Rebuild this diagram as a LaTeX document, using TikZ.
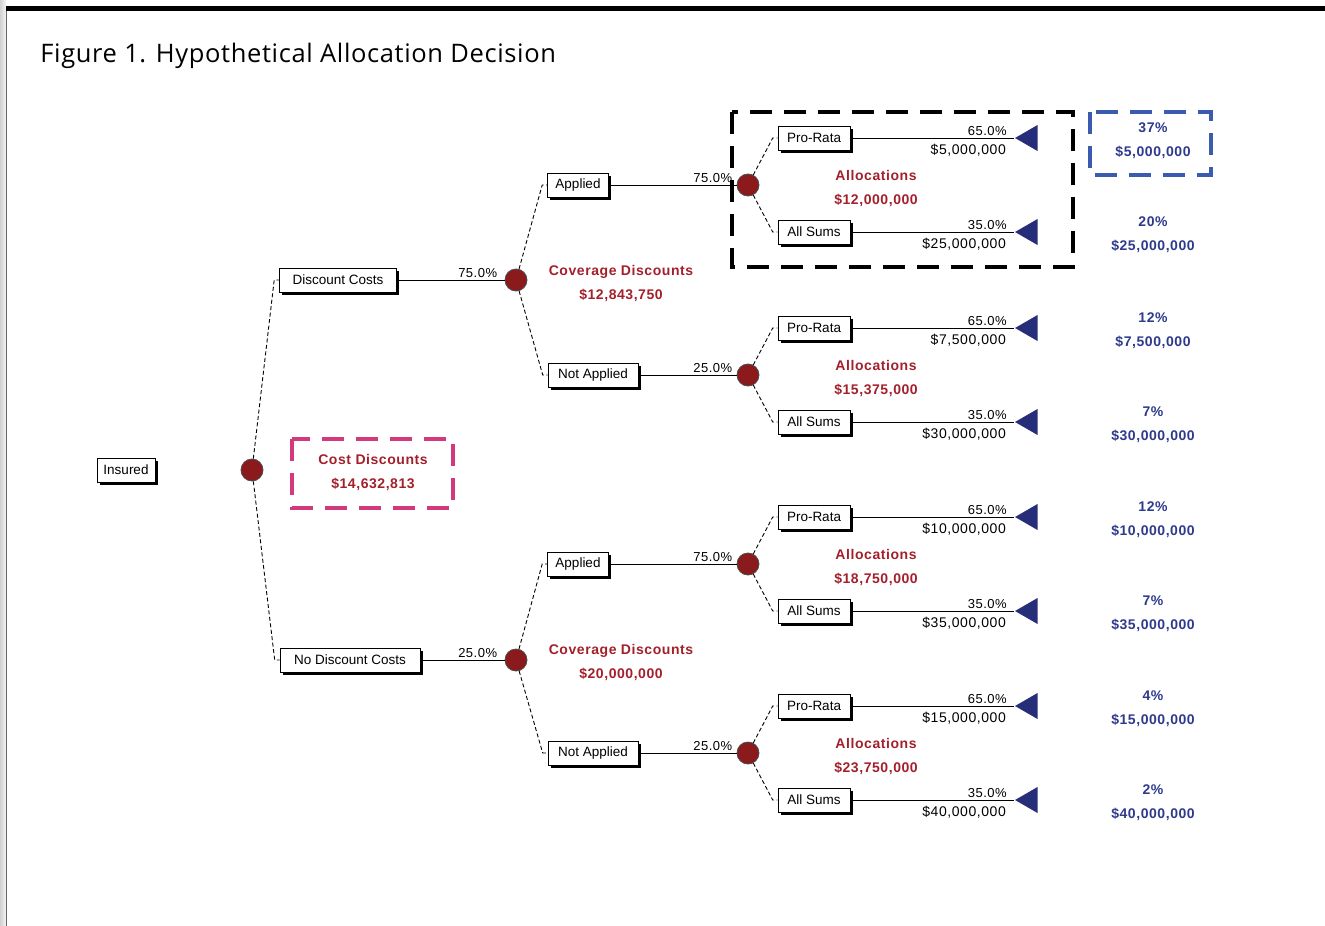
\documentclass[tikz,border=0pt]{standalone}
\usepackage{fontspec}
\setmainfont{Liberation Sans}
\newfontfamily\titlefont[LetterSpace=2.5]{Open Sans}
\newfontfamily\labfont[LetterSpace=4]{Liberation Sans}
\usetikzlibrary{shapes.geometric,shadows,positioning}
\definecolor{nodered}{HTML}{8B1A1C}
\definecolor{labelred}{HTML}{A3202B}
\definecolor{termblue}{HTML}{262E7A}
\definecolor{valblue}{HTML}{2E3A8C}
\definecolor{hiblue}{HTML}{3A5BB0}
\definecolor{hipink}{HTML}{D33A7E}

\begin{document}
\begin{tikzpicture}[x=1pt,y=-1pt, line width=0.8pt,
    choice/.style={rectangle, draw, line width=0.6pt, fill=white, minimum height=24pt, inner xsep=5pt,
        font=\fontsize{13.5}{14}\selectfont,
        drop shadow={shadow xshift=2.5pt, shadow yshift=-2.5pt, fill=black, opacity=1}},
    chance/.style={circle, draw=black!70, fill=nodered, minimum size=22pt, inner sep=0pt},
    ending/.style={regular polygon, regular polygon sides=3, shape border rotate=90,
        fill=termblue, minimum size=30pt, inner sep=0pt},
    prob/.style={font=\labfont\fontsize{13}{13}\selectfont, anchor=south east, xshift=-5pt, inner sep=2pt},
    payoff/.style={font=\labfont\fontsize{14}{14}\selectfont, anchor=north east, xshift=-5pt, yshift=-3pt, inner sep=3pt},
    redlab/.style={text=labelred, font=\labfont\bfseries\fontsize{14}{24}\selectfont, align=center},
    bluelab/.style={text=valblue, font=\labfont\bfseries\fontsize{14}{24}\selectfont, align=center},
    branch/.style={line width=0.9pt, dash pattern=on 4pt off 2.5pt},
    hilite/.style={line width=4.5pt, dash pattern=on 22pt off 12pt}]

    \useasboundingbox (0,0) rectangle (1325,926);
    % page edge
    \shade[left color=black!18, right color=black!4] (0,0) rectangle (6,926);
    \draw[black!60, line width=1.5pt] (6.5,8) -- (6.5,926);
    \draw[line width=5pt] (5.75,8.5) -- (1325,8.5);
    \node[anchor=base west, inner sep=0pt, font=\titlefont\fontsize{25.5}{25}\selectfont] (title) at (40,62)
        {Figure 1. Hypothetical Allocation Decision};

    %root
    \node[choice, minimum width=58pt] at (126,470) (ins) {Insured};
    \node[chance] at (252,470) (r0) {};
    \node[choice, minimum width=117pt] at (338,280) (dc) {Discount Costs};
    \node[choice, minimum width=140pt] at (350,660) (ndc) {No Discount Costs};
    \node[redlab] at (373,473) (cost) {Cost Discounts\\\$14,632,813};

    %coverage discounts
    \node[chance] at (516,280) (c1) {};
    \node[chance] at (516,660) (c2) {};
    \node[redlab] at (621,284) (cov1) {Coverage Discounts\\\$12,843,750};
    \node[redlab] at (621,663) (cov2) {Coverage Discounts\\\$20,000,000};
    \node[choice, minimum width=61pt] at (578,185) (ap1) {Applied};
    \node[choice, minimum width=90pt] at (593,375) (na1) {Not Applied};
    \node[choice, minimum width=61pt] at (578,564) (ap2) {Applied};
    \node[choice, minimum width=90pt] at (593,753) (na2) {Not Applied};

    %allocations
    \node[chance] at (748,185) (a1) {};
    \node[chance] at (748,375) (a2) {};
    \node[chance] at (748,564) (a3) {};
    \node[chance] at (748,753) (a4) {};
    \node[redlab] at (876,189) (al1) {Allocations\\\$12,000,000};
    \node[redlab] at (876,379) (al2) {Allocations\\\$15,375,000};
    \node[redlab] at (876,568) (al3) {Allocations\\\$18,750,000};
    \node[redlab] at (876,757) (al4) {Allocations\\\$23,750,000};

    \node[choice, minimum width=72pt] at (814,138) (pr1) {Pro-Rata};
    \node[choice, minimum width=72pt] at (814,232) (as1) {All Sums};
    \node[choice, minimum width=72pt] at (814,328) (pr2) {Pro-Rata};
    \node[choice, minimum width=72pt] at (814,422) (as2) {All Sums};
    \node[choice, minimum width=72pt] at (814,517) (pr3) {Pro-Rata};
    \node[choice, minimum width=72pt] at (814,611) (as3) {All Sums};
    \node[choice, minimum width=72pt] at (814,706) (pr4) {Pro-Rata};
    \node[choice, minimum width=72pt] at (814,800) (as4) {All Sums};

    %outcomes
    \node[ending] at (1030,138) (t1) {};
    \node[ending] at (1030,232) (t2) {};
    \node[ending] at (1030,328) (t3) {};
    \node[ending] at (1030,422) (t4) {};
    \node[ending] at (1030,517) (t5) {};
    \node[ending] at (1030,611) (t6) {};
    \node[ending] at (1030,706) (t7) {};
    \node[ending] at (1030,800) (t8) {};
    \node[bluelab] at (1153,141) (v1) {37\%\\\$5,000,000};
    \node[bluelab] at (1153,235) (v2) {20\%\\\$25,000,000};
    \node[bluelab] at (1153,331) (v3) {12\%\\\$7,500,000};
    \node[bluelab] at (1153,425) (v4) {7\%\\\$30,000,000};
    \node[bluelab] at (1153,520) (v5) {12\%\\\$10,000,000};
    \node[bluelab] at (1153,614) (v6) {7\%\\\$35,000,000};
    \node[bluelab] at (1153,709) (v7) {4\%\\\$15,000,000};
    \node[bluelab] at (1153,803) (v8) {2\%\\\$40,000,000};

    %branches
    \draw[branch] (r0) -- ([xshift=-5pt]dc.west) -- (dc.west);
    \draw[branch] (r0) -- ([xshift=-5pt]ndc.west) -- (ndc.west);
    \draw (dc.east) -- (c1.west) node[prob] {75.0\%};
    \draw (ndc.east) -- (c2.west) node[prob] {25.0\%};

    \draw[branch] (c1) -- ([xshift=-5pt]ap1.west) -- (ap1.west);
    \draw[branch] (c1) -- ([xshift=-5pt]na1.west) -- (na1.west);
    \draw[branch] (c2) -- ([xshift=-5pt]ap2.west) -- (ap2.west);
    \draw[branch] (c2) -- ([xshift=-5pt]na2.west) -- (na2.west);
    \draw (ap1.east) -- (a1.west) node[prob, xshift=3pt] {75.0\%};
    \draw (na1.east) -- (a2.west) node[prob, xshift=3pt] {25.0\%};
    \draw (ap2.east) -- (a3.west) node[prob, xshift=3pt] {75.0\%};
    \draw (na2.east) -- (a4.west) node[prob, xshift=3pt] {25.0\%};

    \draw[branch] (a1) -- ([xshift=-5pt]pr1.west) -- (pr1.west);
    \draw[branch] (a1) -- ([xshift=-5pt]as1.west) -- (as1.west);
    \draw[branch] (a2) -- ([xshift=-5pt]pr2.west) -- (pr2.west);
    \draw[branch] (a2) -- ([xshift=-5pt]as2.west) -- (as2.west);
    \draw[branch] (a3) -- ([xshift=-5pt]pr3.west) -- (pr3.west);
    \draw[branch] (a3) -- ([xshift=-5pt]as3.west) -- (as3.west);
    \draw[branch] (a4) -- ([xshift=-5pt]pr4.west) -- (pr4.west);
    \draw[branch] (a4) -- ([xshift=-5pt]as4.west) -- (as4.west);

    \draw (pr1.east) -- (t1.west) node[prob] {65.0\%} node[payoff] {\$5,000,000};
    \draw (as1.east) -- (t2.west) node[prob] {35.0\%} node[payoff] {\$25,000,000};
    \draw (pr2.east) -- (t3.west) node[prob] {65.0\%} node[payoff] {\$7,500,000};
    \draw (as2.east) -- (t4.west) node[prob] {35.0\%} node[payoff] {\$30,000,000};
    \draw (pr3.east) -- (t5.west) node[prob] {65.0\%} node[payoff] {\$10,000,000};
    \draw (as3.east) -- (t6.west) node[prob] {35.0\%} node[payoff] {\$35,000,000};
    \draw (pr4.east) -- (t7.west) node[prob] {65.0\%} node[payoff] {\$15,000,000};
    \draw (as4.east) -- (t8.west) node[prob] {35.0\%} node[payoff] {\$40,000,000};

    %highlight boxes
    \draw[hilite] (732,112) rectangle (1073,267);
    \draw[hilite, hiblue] (1090,112) rectangle (1211,175);
    \draw[hilite, hipink] (292,439) rectangle (453,508);
\end{tikzpicture}
\end{document}
